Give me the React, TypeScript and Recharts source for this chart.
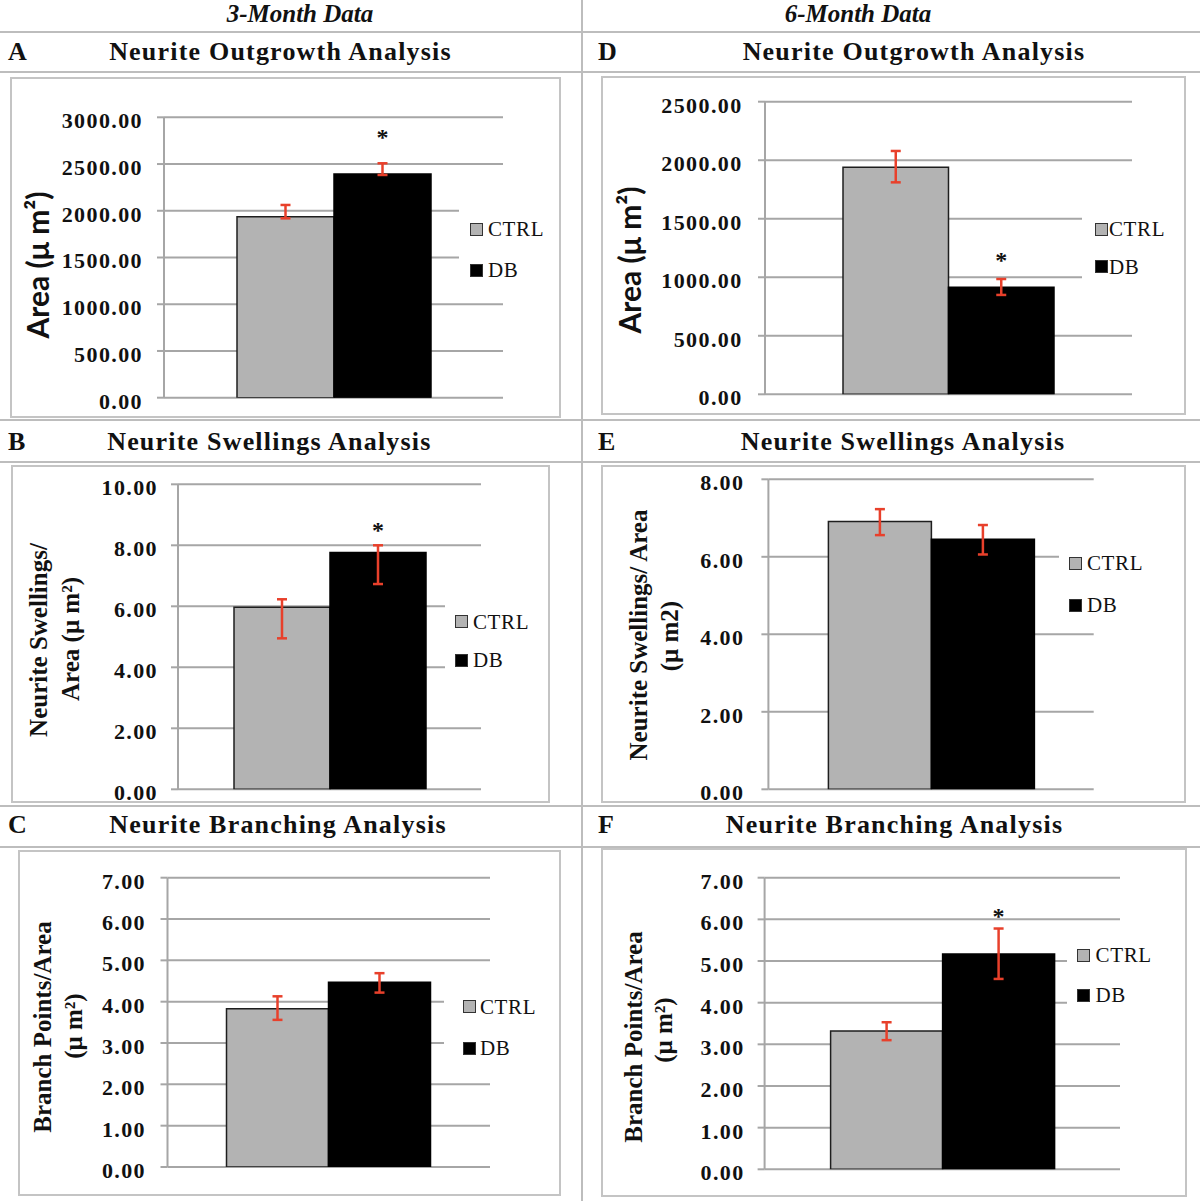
import React from "react";
import { Bar, BarChart, CartesianGrid, ErrorBar, LabelList, Legend, XAxis, YAxis } from "recharts";

// two groups shown in every panel
const groups = ["CTRL", "DB"];
const groupFills = ["#b3b3b3", "#000000"];
const groupStrokes = ["#1e1e1e", "#000000"];

// A – 3 month outgrowth (area, µm²)
const outgrowth3Ticks = [0, 500, 1000, 1500, 2000, 2500, 3000];
const outgrowth3Mean = [1937, 2394];
const outgrowth3Err = [[18, 125], [11, 114]];
const outgrowth3Star = [null, 2830];

// B – 3 month swellings
const swellings3Ticks = [0, 2, 4, 6, 8, 10];
const swellings3Mean = [5.97, 7.76];
const swellings3Err = [[1.02, 0.26], [1.03, 0.24]];
const swellings3Star = [null, 8.63];

// C – 3 month branching
const branching3Ticks = [0, 1, 2, 3, 4, 5, 6, 7];
const branching3Mean = [3.83, 4.47];
const branching3Err = [[0.27, 0.3], [0.25, 0.22]];
const branching3Star = [null, null];

// D – 6 month outgrowth
const outgrowth6Ticks = [0, 500, 1000, 1500, 2000, 2500];
const outgrowth6Mean = [1939, 914];
const outgrowth6Err = [[128, 140], [65, 71]];
const outgrowth6Star = [null, 1182];

// E – 6 month swellings
const swellings6Ticks = [0, 2, 4, 6, 8];
const swellings6Mean = [6.91, 6.45];
const swellings6Err = [[0.35, 0.32], [0.39, 0.37]];
const swellings6Star = [null, null];

// F – 6 month branching
const branching6Ticks = [0, 1, 2, 3, 4, 5, 6, 7];
const branching6Mean = [3.32, 5.17];
const branching6Err = [[0.22, 0.21], [0.6, 0.61]];
const branching6Star = [null, 6.18];

const serif = '"Liberation Serif", "Times New Roman", serif';
const sans = 'Lato, "Liberation Sans", sans-serif';
const lineGray = "#bdbdbd";
const gridGray = "#a6a6a6";
const errRed = "#e8402b";

type YLine = { text: string; x: number; y: number };
type Panel = {
  letter: string;
  letterX: number;
  title: string;
  titleX: number;
  titleY: number;
  box: [number, number, number, number];
  axisX: number;
  gridTop: number;
  gridBottom: number;
  gridRight: number;
  barSize: number;
  tickGap: number;
  ticks: number[];
  mean: number[];
  err: number[][];
  star: (number | null)[];
  yFont: "sans" | "serif";
  yLines: YLine[];
  legend: { x: number; y: number; w: number; h: number; rows: number[]; sqX: number; textX: number };
};

const panels: Panel[] = [
  {
    letter: "A", letterX: 8, title: "Neurite Outgrowth Analysis", titleX: 280.5, titleY: 51.7,
    box: [10, 77, 551, 341], axisX: 164, gridTop: 117.3, gridBottom: 397.7, gridRight: 503, barSize: 97, tickGap: 22,
    ticks: outgrowth3Ticks, mean: outgrowth3Mean, err: outgrowth3Err, star: outgrowth3Star,
    yFont: "sans", yLines: [{ text: "Area (μ m²)", x: 36.5, y: 265 }],
    legend: { x: 459, y: 190, w: 95, h: 105, rows: [229, 270], sqX: 470, textX: 488 },
  },
  {
    letter: "B", letterX: 8, title: "Neurite Swellings Analysis", titleX: 269.4, titleY: 441.7,
    box: [11, 465, 539, 338], axisX: 178, gridTop: 484.3, gridBottom: 789.3, gridRight: 481, barSize: 96, tickGap: 21,
    ticks: swellings3Ticks, mean: swellings3Mean, err: swellings3Err, star: swellings3Star,
    yFont: "serif",
    yLines: [{ text: "Neurite Swellings/", x: 38, y: 640 }, { text: "Area (μ m²)", x: 70, y: 639 }],
    legend: { x: 445, y: 585, w: 100, h: 100, rows: [621.7, 660], sqX: 455, textX: 473 },
  },
  {
    letter: "C", letterX: 8, title: "Neurite Branching Analysis", titleX: 278, titleY: 825,
    box: [18, 850, 543, 346], axisX: 167.5, gridTop: 877.7, gridBottom: 1167, gridRight: 490, barSize: 102, tickGap: 22.5,
    ticks: branching3Ticks, mean: branching3Mean, err: branching3Err, star: branching3Star,
    yFont: "serif",
    yLines: [{ text: "Branch Points/Area", x: 42, y: 1027 }, { text: "(μ m²)", x: 72.7, y: 1026 }],
    legend: { x: 444, y: 975, w: 110, h: 95, rows: [1006.7, 1048], sqX: 463, textX: 480 },
  },
  {
    letter: "D", letterX: 598, title: "Neurite Outgrowth Analysis", titleX: 914, titleY: 51.7,
    box: [601, 76, 585, 339], axisX: 765, gridTop: 101.7, gridBottom: 394.3, gridRight: 1132, barSize: 105.5, tickGap: 23.4,
    ticks: outgrowth6Ticks, mean: outgrowth6Mean, err: outgrowth6Err, star: outgrowth6Star,
    yFont: "sans", yLines: [{ text: "Area (μ m²)", x: 628.7, y: 260 }],
    legend: { x: 1082, y: 195, w: 100, h: 110, rows: [229, 266.7], sqX: 1094.5, textX: 1109 },
  },
  {
    letter: "E", letterX: 598, title: "Neurite Swellings Analysis", titleX: 903, titleY: 441.7,
    box: [601, 465, 585, 338], axisX: 768.4, gridTop: 479.3, gridBottom: 789.3, gridRight: 1093.7, barSize: 103, tickGap: 25,
    ticks: swellings6Ticks, mean: swellings6Mean, err: swellings6Err, star: swellings6Star,
    yFont: "serif",
    yLines: [{ text: "Neurite Swellings/ Area", x: 638, y: 635 }, { text: "(μ m2)", x: 669, y: 636 }],
    legend: { x: 1059, y: 535, w: 120, h: 90, rows: [563, 605], sqX: 1069, textX: 1087 },
  },
  {
    letter: "F", letterX: 598, title: "Neurite Branching Analysis", titleX: 894.5, titleY: 825,
    box: [601, 848, 586, 349], axisX: 764.6, gridTop: 877.7, gridBottom: 1169.3, gridRight: 1120, barSize: 112, tickGap: 21,
    ticks: branching6Ticks, mean: branching6Mean, err: branching6Err, star: branching6Star,
    yFont: "serif",
    yLines: [{ text: "Branch Points/Area", x: 632.5, y: 1036.7 }, { text: "(μ m²)", x: 663, y: 1030 }],
    legend: { x: 1067, y: 930, w: 115, h: 100, rows: [955, 995], sqX: 1076.5, textX: 1095.6 },
  },
];

const hLines = [31.5, 71.5, 420, 461.5, 806, 846.5];

function renderTick(props: any) {
  const { x, y, payload } = props;
  return (
    <text x={x} y={y + 3} dy="0.36em" textAnchor="end" fontFamily={serif} fontWeight={700} fontSize={22} letterSpacing={1.4} fill="#111">
      {Number(payload.value).toFixed(2)}
    </text>
  );
}

function starLabel(star: number | null, mean: number) {
  return (props: any) => {
    if (star == null) return null;
    const vb = props.viewBox && typeof props.viewBox.x === "number" ? props.viewBox : props;
    const { x, y, width, height } = vb;
    const base = y + height;
    const sy = base - (star / mean) * height;
    return (
      <text x={x + width / 2} y={sy + 12} textAnchor="middle" fontFamily={serif} fontWeight={700} fontSize={24} fill="#111">
        *
      </text>
    );
  };
}

function LegendBox({ p }: { p: Panel }) {
  const lg = p.legend;
  return (
    <div style={{ position: "relative", width: lg.w, height: lg.h }}>
      {groups.map((g, i) => (
        <React.Fragment key={g}>
          <div
            style={{
              position: "absolute", left: lg.sqX - lg.x, top: lg.rows[i] - lg.y - 6.5, width: 13, height: 13,
              background: groupFills[i], border: "1px solid #333", boxSizing: "border-box",
            }}
          />
          <div
            style={{
              position: "absolute", left: lg.textX - lg.x, top: lg.rows[i] - lg.y - 12, height: 24, lineHeight: "24px",
              fontSize: 21, fontFamily: serif, letterSpacing: 0.6, color: "#111", whiteSpace: "nowrap",
            }}
          >
            {g}
          </div>
        </React.Fragment>
      ))}
    </div>
  );
}

function PanelView({ p }: { p: Panel }) {
  const [bx, by, bw, bh] = p.box;
  const row: any = { name: p.letter };
  groups.forEach((g, i) => {
    row[g] = p.mean[i];
    row[g + "Err"] = p.err[i];
  });
  const data = [row];
  const max = p.ticks[p.ticks.length - 1];

  return (
    <>
      <div style={{ position: "absolute", left: p.letterX, top: p.titleY - 15, lineHeight: "30px", fontSize: 26, fontWeight: 700 }}>
        {p.letter}
      </div>
      <div
        style={{
          position: "absolute", left: p.titleX - 250, width: 500, top: p.titleY - 15, lineHeight: "30px",
          textAlign: "center", fontSize: 26, fontWeight: 700, letterSpacing: 1.2, whiteSpace: "nowrap",
        }}
      >
        {p.title}
      </div>
      <div style={{ position: "absolute", left: bx, top: by, width: bw, height: bh }}>
        <BarChart
          width={bw}
          height={bh}
          data={data}
          barGap={0}
          margin={{ top: p.gridTop - by, bottom: by + bh - p.gridBottom, right: bx + bw - p.gridRight, left: 0 }}
        >
          <CartesianGrid vertical={false} stroke={gridGray} strokeWidth={2} />
          <XAxis dataKey="name" hide />
          <YAxis
            width={p.axisX - bx}
            domain={[0, max]}
            ticks={p.ticks}
            interval={0}
            allowDataOverflow
            axisLine={{ stroke: gridGray, strokeWidth: 2 }}
            tickLine={{ stroke: gridGray, strokeWidth: 2 }}
            tickSize={7}
            tickMargin={p.tickGap - 8}
            tick={renderTick}
          />
          <Legend
            layout="horizontal"
            verticalAlign="middle"
            align="center"
            wrapperStyle={{ left: p.legend.x - bx, top: p.legend.y - by, width: p.legend.w, height: p.legend.h, background: "#fff", margin: 0 }}
            content={() => <LegendBox p={p} />}
          />
          {groups.map((g, i) => (
            <Bar
              key={g}
              dataKey={g}
              name={g}
              fill={groupFills[i]}
              stroke={groupStrokes[i]}
              strokeWidth={1.5}
              barSize={p.barSize}
              isAnimationActive={false}
            >
              <ErrorBar dataKey={g + "Err"} direction="y" stroke={errRed} strokeWidth={2.5} width={5} isAnimationActive={false} />
              <LabelList dataKey={g} content={starLabel(p.star[i], p.mean[i])} />
            </Bar>
          ))}
        </BarChart>
      </div>
      <div
        style={{
          position: "absolute", left: bx, top: by, width: bw, height: bh, boxSizing: "border-box",
          border: "2px solid #c4c4c4", pointerEvents: "none",
        }}
      />
      {p.yLines.map((l) => (
        <div
          key={l.text}
          style={{
            position: "absolute", left: l.x, top: l.y, transform: "translate(-50%, -50%) rotate(-90deg)",
            whiteSpace: "nowrap", lineHeight: 1, fontWeight: 700,
            fontFamily: p.yFont === "sans" ? sans : serif, fontSize: p.yFont === "sans" ? 30 : 25, color: "#111",
          }}
        >
          {l.text}
        </div>
      ))}
    </>
  );
}

export default function App() {
  return (
    <div
      style={{
        position: "absolute", left: 0, top: 0, width: 1200, height: 1201, background: "#fff",
        fontFamily: serif, color: "#111", overflow: "hidden",
      }}
    >
      <style>{".recharts-surface { overflow: visible; }"}</style>
      {hLines.map((y) => (
        <div key={y} style={{ position: "absolute", left: 0, top: y - 1, width: 1200, height: 2, background: lineGray }} />
      ))}
      <div style={{ position: "absolute", left: 580.5, top: 0, width: 2, height: 1201, background: lineGray }} />
      {[
        { text: "3-Month Data", cx: 300 },
        { text: "6-Month Data", cx: 858 },
      ].map((h) => (
        <div
          key={h.text}
          style={{
            position: "absolute", left: h.cx - 150, width: 300, top: 0, lineHeight: "28px", textAlign: "center",
            fontSize: 25, fontWeight: 700, fontStyle: "italic",
          }}
        >
          {h.text}
        </div>
      ))}
      {panels.map((p) => (
        <PanelView key={p.letter} p={p} />
      ))}
    </div>
  );
}
